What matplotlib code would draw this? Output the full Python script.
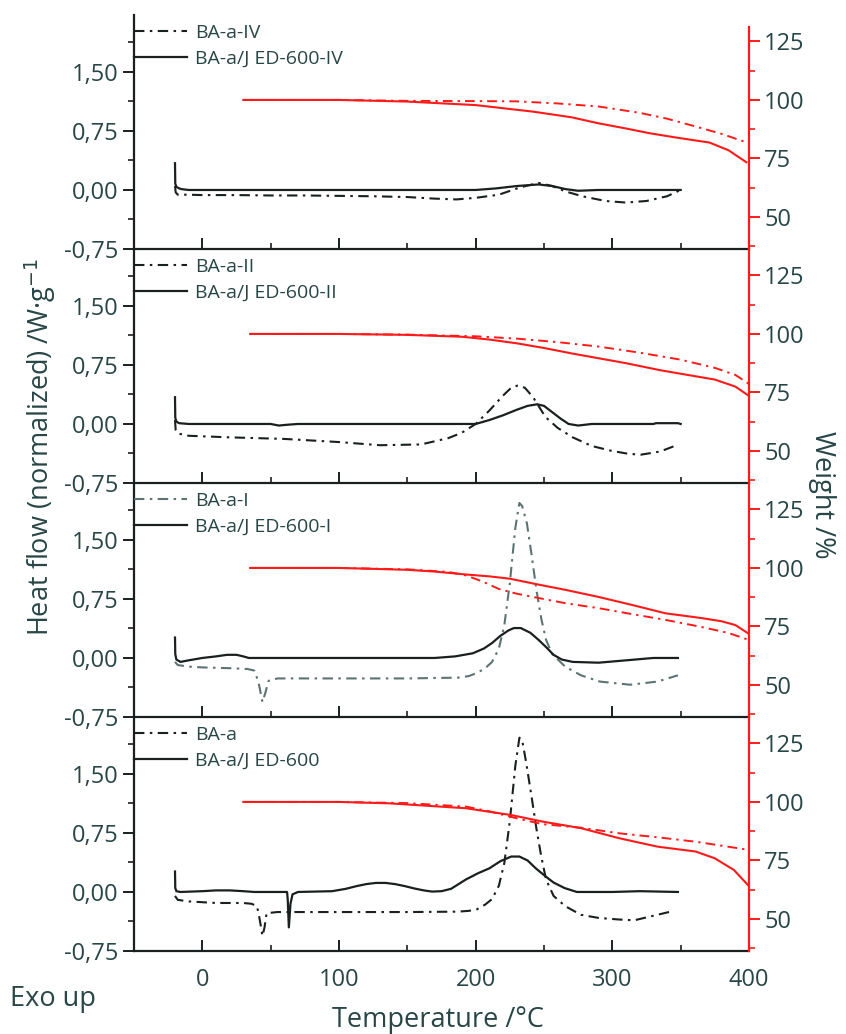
import matplotlib

matplotlib.use("Agg")
import matplotlib.pyplot as plt
from matplotlib.ticker import MultipleLocator, FuncFormatter

plt.rcParams['font.family'] = ['Open Sans', 'DejaVu Sans']

TXT = '#284646'
INK = '#1a1f1f'
GRAY = '#5c7472'
RED = '#ff1a1a'

# ---- panel 1 : BA-a-IV / BA-a/J ED-600-IV
ba_iv_t = [-20, -19.5, -18, -10, 0, 25, 50, 75, 100, 125, 150, 170, 186, 200, 217, 232, 246, 256, 266, 278, 295, 310, 325, 340, 350]
ba_iv_hf = [0.05, -0.03, -0.06, -0.06, -0.065, -0.065, -0.07, -0.07, -0.075, -0.08, -0.09, -0.11, -0.12, -0.10, -0.06, 0.03, 0.09, 0.05, -0.02, -0.08, -0.14, -0.16, -0.14, -0.08, 0.0]
jed_iv_t = [-20, -19.8, -19, -17, -15, -10, 0, 50, 100, 150, 200, 215, 230, 246, 256, 266, 275, 290, 320, 350]
jed_iv_hf = [0.34, 0.08, 0.04, 0.02, 0.01, 0.0, 0.0, 0.0, 0.0, 0.0, 0.0, 0.02, 0.05, 0.07, 0.05, 0.01, -0.01, 0.0, 0.0, 0.0]
ba_iv_wt = [30, 100, 150, 200, 230, 260, 290, 320, 340, 360, 380, 400]
ba_iv_w = [100, 100, 99.6, 99.5, 99.4, 98.5, 97.2, 94.5, 92, 88.8, 85.5, 81.5]
jed_iv_wt = [30, 100, 150, 200, 242, 270, 290, 310, 327, 347, 371, 385, 398]
jed_iv_w = [100, 100, 99.3, 97.8, 95, 92.6, 90, 87.8, 85.8, 83.9, 81.8, 78.5, 73.4]

# ---- panel 2 : BA-a-II / BA-a/J ED-600-II
ba_ii_t = [-20, -19.5, -18, -10, 20, 60, 100, 130, 160, 180, 190, 200, 210, 220, 226, 231, 236, 242, 251, 260, 271, 285, 299, 312, 321, 335, 347]
ba_ii_hf = [0.05, -0.08, -0.12, -0.15, -0.17, -0.19, -0.23, -0.27, -0.26, -0.18, -0.11, 0.0, 0.17, 0.36, 0.46, 0.49, 0.46, 0.34, 0.09, -0.05, -0.17, -0.28, -0.34, -0.38, -0.39, -0.35, -0.27]
jed_ii_t = [-20, -19.8, -19, -17, -10, 50, 56, 62, 70, 150, 200, 210, 220, 230, 238, 245, 250, 256, 262, 268, 275, 285, 330, 332, 348, 350]
jed_ii_hf = [0.34, 0.08, 0.03, 0.01, 0.0, 0.0, -0.02, -0.01, 0.0, 0.0, 0.0, 0.05, 0.11, 0.18, 0.23, 0.25, 0.23, 0.15, 0.07, 0.0, -0.02, 0.0, 0.0, 0.01, 0.01, 0.0]
ba_ii_wt = [35, 100, 150, 200, 230, 260, 290, 320, 350, 375, 390, 400]
ba_ii_w = [100, 100, 99.7, 99, 98, 96.5, 94.6, 92, 89, 85.5, 82.5, 78.6]
jed_ii_wt = [35, 100, 150, 190, 210, 230, 250, 270, 290, 310, 335, 355, 375, 390, 400]
jed_ii_w = [100, 100, 99.6, 98.8, 97.6, 96, 94, 91.7, 89.6, 87.5, 84.5, 82.5, 80.5, 77.5, 73.5]

# ---- panel 3 : BA-a-I / BA-a/J ED-600-I
ba_i_t = [-20, -18, -10, 0, 20, 33, 38, 41, 44, 46, 48.5, 55, 100, 150, 187, 195, 201, 207, 212, 217, 221, 225, 229, 232, 234, 237.5, 241, 244.5, 248, 251.5, 256, 265.5, 277, 291, 313, 333, 348]
ba_i_hf = [-0.05, -0.09, -0.11, -0.12, -0.13, -0.14, -0.16, -0.3, -0.56, -0.45, -0.29, -0.26, -0.26, -0.26, -0.25, -0.23, -0.19, -0.13, -0.05, 0.12, 0.42, 0.95, 1.65, 1.97, 1.93, 1.71, 1.3, 0.86, 0.5, 0.23, 0.05, -0.11, -0.22, -0.30, -0.34, -0.3, -0.22]
jed_i_t = [-20, -19.8, -19, -16, -10, 0, 10, 18, 25, 30, 34, 40, 100, 170, 185, 198, 206, 212, 218, 224, 228, 233, 240, 246, 252, 257, 263, 271, 290, 310, 330, 348]
jed_i_hf = [0.26, 0.05, -0.02, -0.05, -0.03, 0.0, 0.02, 0.04, 0.04, 0.02, 0.0, 0.0, 0.0, 0.0, 0.02, 0.06, 0.12, 0.19, 0.28, 0.35, 0.38, 0.38, 0.32, 0.23, 0.13, 0.04, -0.02, -0.05, -0.06, -0.03, 0.0, 0.0]
ba_i_wt = [35, 100, 150, 180, 193, 205, 217, 230, 242, 266, 290, 315, 339, 365, 385, 400]
ba_i_w = [100, 100, 99.4, 98.3, 96.8, 94.2, 91, 89, 87.6, 84.9, 82.8, 80.2, 77.8, 74.8, 72.2, 69.2]
jed_i_wt = [35, 100, 150, 169, 193, 210, 225, 245, 266, 290, 315, 339, 365, 380, 390, 400]
jed_i_w = [100, 100, 99.2, 98.5, 97.2, 96.4, 95.4, 93, 90.6, 87.6, 84.1, 80.6, 78.6, 77.2, 75.6, 71.8]

# ---- panel 4 : BA-a / BA-a/J ED-600
ba_t = [-20, -18, -10, 10, 30, 36, 40, 42, 44, 45.5, 47, 55, 100, 150, 187, 195, 201, 207, 212, 217, 221, 225, 229, 232, 234, 237, 241, 244.5, 248, 251.5, 257, 265.5, 277, 290, 305, 316, 333, 345]
ba_hf = [-0.05, -0.1, -0.12, -0.14, -0.14, -0.15, -0.18, -0.35, -0.56, -0.45, -0.27, -0.255, -0.255, -0.255, -0.25, -0.24, -0.22, -0.16, -0.09, 0.08, 0.37, 0.9, 1.6, 1.96, 1.93, 1.64, 1.2, 0.8, 0.45, 0.16, -0.05, -0.18, -0.29, -0.33, -0.35, -0.36, -0.29, -0.24]
jed_t = [-20, -19.8, -19, -16, 0, 10, 20, 30, 38, 62, 62.5, 63.3, 64.5, 66, 70, 95, 105, 113, 120, 127, 134, 141, 148, 155, 162, 168, 175, 182, 193, 202, 210, 218, 226, 232, 238, 244, 251, 257, 265, 274, 300, 320, 348]
jed_hf = [0.26, 0.05, 0.01, 0.0, 0.01, 0.02, 0.02, 0.01, 0.0, 0.0, -0.1, -0.45, -0.15, -0.03, 0.0, 0.01, 0.04, 0.075, 0.1, 0.115, 0.115, 0.1, 0.075, 0.045, 0.02, 0.005, 0.01, 0.04, 0.16, 0.24, 0.3, 0.39, 0.45, 0.45, 0.4, 0.3, 0.2, 0.12, 0.05, 0.0, 0.0, 0.01, 0.0]
ba_wt = [30, 100, 150, 193, 210, 230, 249, 277, 305, 333, 361, 400]
ba_w = [100, 100, 99.5, 98, 96, 93, 90.5, 89, 86.6, 84.9, 83, 79.5]
jed_wt = [30, 100, 137, 193, 210, 226, 249, 277, 305, 333, 361, 375, 389, 400]
jed_w = [100, 100, 99.4, 97.3, 95.8, 94.4, 91.6, 88.8, 84.5, 80.9, 78.8, 75.9, 70.9, 64]

panels = [
    ("BA-a-IV", "BA-a/J ED-600-IV", INK, ba_iv_t, ba_iv_hf, jed_iv_t, jed_iv_hf, ba_iv_wt, ba_iv_w, jed_iv_wt, jed_iv_w),
    ("BA-a-II", "BA-a/J ED-600-II", INK, ba_ii_t, ba_ii_hf, jed_ii_t, jed_ii_hf, ba_ii_wt, ba_ii_w, jed_ii_wt, jed_ii_w),
    ("BA-a-I", "BA-a/J ED-600-I", GRAY, ba_i_t, ba_i_hf, jed_i_t, jed_i_hf, ba_i_wt, ba_i_w, jed_i_wt, jed_i_w),
    ("BA-a", "BA-a/J ED-600", INK, ba_t, ba_hf, jed_t, jed_hf, ba_wt, ba_w, jed_wt, jed_w),
]

DASHDOT = (0, (5, 2.6, 1.2, 2.6))
comma = FuncFormatter(lambda v, p: f"{v:.2f}".replace('.', ','))

W, H = 846, 1034
fig = plt.figure(figsize=(W / 100, H / 100), dpi=100)

left_px, right_px = 134, 749
panel_h = 234
bottoms_px = [249, 483, 717, 951]

for i, (lab_ba, lab_jed, ba_col, bt, bh, jt, jh, bwt, bw, jwt, jw) in enumerate(panels):
    b = bottoms_px[i]
    ax = fig.add_axes([left_px / W, 1 - b / H, (right_px - left_px) / W, panel_h / H])
    ax.set_xlim(-50, 400)
    ax.set_ylim(-0.75, 2.223)

    l1, = ax.plot(bt, bh, color=ba_col, lw=1.5, linestyle=DASHDOT)
    l2, = ax.plot(jt, jh, color=INK, lw=1.6, linestyle='-')

    ax.xaxis.set_major_locator(MultipleLocator(100))
    ax.xaxis.set_minor_locator(MultipleLocator(50))
    ax.yaxis.set_major_locator(MultipleLocator(0.75))
    ax.yaxis.set_minor_locator(MultipleLocator(0.375))
    ax.yaxis.set_major_formatter(comma)
    ax.tick_params(axis='x', which='major', direction='in', length=8, width=1.4, color=INK,
                   labelsize=17, labelcolor=TXT, pad=12)
    ax.tick_params(axis='x', which='minor', direction='in', length=4.5, width=1.2, color=INK)
    ax.tick_params(axis='y', which='major', direction='out', length=8, width=1.4, color=INK,
                   labelsize=17, labelcolor=TXT, pad=3)
    ax.tick_params(axis='y', which='minor', direction='out', length=4.5, width=1.2, color=INK)
    if i < 3:
        ax.tick_params(axis='x', labelbottom=False)
    for s in ['top', 'right']:
        ax.spines[s].set_visible(False)
    for s in ['left', 'bottom']:
        ax.spines[s].set_color(INK)
        ax.spines[s].set_linewidth(1.6)
    ax.patch.set_alpha(0)

    leg = ax.legend([l1, l2], [lab_ba, lab_jed], loc='upper left', bbox_to_anchor=(0, 0.962),
                    frameon=False, fontsize=14, handlelength=2.7, handletextpad=0.42,
                    borderpad=0, borderaxespad=0, labelspacing=0.4)
    for t in leg.get_texts():
        t.set_color(TXT)

    ax2 = ax.twinx()
    ax2.set_ylim(36.3, 136.3)
    ax2.plot(bwt, bw, color=RED, lw=1.4, linestyle=DASHDOT)
    ax2.plot(jwt, jw, color=RED, lw=1.5, linestyle='-')
    ax2.yaxis.set_major_locator(MultipleLocator(25))
    ax2.yaxis.set_minor_locator(MultipleLocator(12.5))
    ax2.tick_params(axis='y', which='major', direction='out', length=8, width=1.4, color=RED,
                    labelsize=17, labelcolor=TXT, pad=3)
    ax2.tick_params(axis='y', which='minor', direction='out', length=4.5, width=1.2, color=RED)
    for s in ['top', 'left', 'bottom']:
        ax2.spines[s].set_visible(False)
    ax2.spines['right'].set_color(RED)
    ax2.spines['right'].set_linewidth(1.6)
    if i == 0:
        ax2.spines['right'].set_bounds(36.3, 131)

fig.text(0.047, 0.568, "Heat flow (normalized) /W·g$^{-1}$", rotation=90, ha='center', va='center',
         fontsize=19.5, color=TXT)
fig.text(0.972, 0.521, "Weight /%", rotation=270, ha='center', va='center', fontsize=19.5, color=TXT)
fig.text(0.518, 0.014, "Temperature /°C", ha='center', va='center', fontsize=19.5, color=TXT)
fig.text(0.012, 0.034, "Exo up", ha='left', va='center', fontsize=19.5, color=TXT)

fig.savefig("out.png", dpi=100, facecolor='white')
